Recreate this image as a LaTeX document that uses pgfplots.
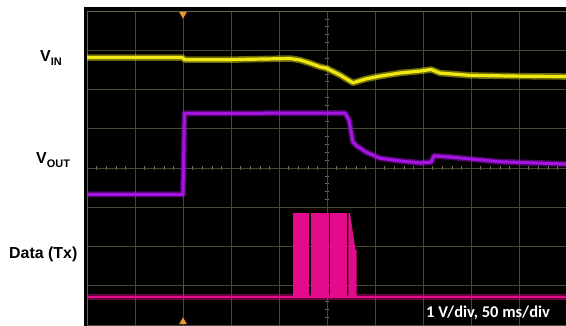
\documentclass[border=0pt]{standalone}
\usepackage{pgfplots}
\pgfplotsset{compat=1.18}
\usepackage{fontspec}
\setmainfont{Liberation Sans}
\newfontfamily\carlito{Carlito}
\definecolor{gridcol}{RGB}{72,72,52}
\definecolor{framecol}{RGB}{100,100,78}
\definecolor{tickcol}{RGB}{115,115,90}
\definecolor{vin}{RGB}{240,232,20}
\definecolor{vout}{RGB}{165,20,225}
\definecolor{data}{RGB}{228,10,140}
\definecolor{trig}{RGB}{240,150,40}
\begin{document}
\begin{tikzpicture}
\fill[black] (84bp,0bp) rectangle (566bp,319bp);
\begin{axis}[
  at={(87bp,1bp)}, anchor=south west,
  scale only axis, width=480bp, height=314bp,
  xmin=-5, xmax=5, ymin=-4, ymax=4,
  axis lines=middle,
  axis line style={-, draw=gridcol, line width=0.6bp},
  xtick={-5,...,5}, ytick={-4,...,4},
  minor tick num=4,
  xticklabels={}, yticklabels={},
  tick align=center,
  major tick length=0pt, minor tick length=3.5bp,
  every tick/.style={draw=tickcol, line width=0.6bp},
  grid=major,
  major grid style={draw=gridcol, line width=0.6bp},
  every axis plot/.append style={line join=round},
]
% frame
\draw[framecol, line width=1bp] (rel axis cs:0,0) rectangle (rel axis cs:1,1);
% V_IN (yellow)
\addplot[vin, opacity=0.45, line width=6.5bp] coordinates {
(-5,2.815) (-3.02,2.815) (-2.96,2.76) (-2.02,2.76) (-0.77,2.79) (-0.56,2.75) (-0.35,2.67) (-0.15,2.58) (0,2.535) (0.27,2.37) (0.54,2.17) (0.81,2.27) (1.10,2.34) (1.52,2.42) (1.94,2.47) (2.17,2.51) (2.35,2.42) (2.98,2.36) (4.02,2.34) (5,2.33)};
\addplot[vin, line width=3.2bp] coordinates {
(-5,2.815) (-3.02,2.815) (-2.96,2.76) (-2.02,2.76) (-0.77,2.79) (-0.56,2.75) (-0.35,2.67) (-0.15,2.58) (0,2.535) (0.27,2.37) (0.54,2.17) (0.81,2.27) (1.10,2.34) (1.52,2.42) (1.94,2.47) (2.17,2.51) (2.35,2.42) (2.98,2.36) (4.02,2.34) (5,2.33)};
% V_OUT (purple)
\addplot[vout, opacity=0.45, line width=6bp] coordinates {
(-5,-0.675) (-3.0,-0.675) (-2.97,1.39) (0.375,1.40) (0.46,1.22) (0.54,0.66) (0.625,0.56) (0.81,0.41) (1.10,0.25) (1.52,0.18) (1.94,0.13) (2.17,0.15) (2.23,0.31) (2.56,0.28) (3.60,0.16) (5,0.10)};
\addplot[vout, line width=3bp] coordinates {
(-5,-0.675) (-3.0,-0.675) (-2.97,1.39) (0.375,1.40) (0.46,1.22) (0.54,0.66) (0.625,0.56) (0.81,0.41) (1.10,0.25) (1.52,0.18) (1.94,0.13) (2.17,0.15) (2.23,0.31) (2.56,0.28) (3.60,0.16) (5,0.10)};
% Data (Tx) (magenta)
\addplot[data, opacity=0.45, line width=5.5bp] coordinates {(-5,-3.287) (5,-3.287)};
\addplot[data, line width=2.8bp] coordinates {(-5,-3.287) (5,-3.287)};
\addplot[data, line width=1bp] coordinates {(-3.0,-3.287) (-3.0,-2.98)};
\addplot[data, fill=data, draw=none] coordinates {(-0.715,-3.287) (-0.715,-1.147) (-0.37,-1.147) (-0.37,-3.287)} -- cycle;
\addplot[data, fill=data, draw=none] coordinates {(-0.34,-3.287) (-0.34,-1.147) (0.035,-1.147) (0.035,-3.287)} -- cycle;
\addplot[data, fill=data, draw=none] coordinates {(0.06,-3.287) (0.06,-1.147) (0.42,-1.147) (0.42,-3.287)} -- cycle;
\addplot[data, fill=data, draw=none] coordinates {(0.445,-3.287) (0.445,-1.147) (0.479,-1.147) (0.594,-2.09) (0.615,-2.09) (0.615,-3.287)} -- cycle;
% trigger markers
\addplot[only marks, mark=triangle*, mark size=4bp, mark options={trig, rotate=180}] coordinates {(-3,3.92)};
\addplot[only marks, mark=triangle*, mark size=4bp, mark options={trig}] coordinates {(-3,-3.92)};
\end{axis}
\node[anchor=base west, font=\bfseries\fontsize{16}{18}\selectfont, inner sep=0pt] at (40bp,264.3bp) {V\raisebox{-4bp}{\fontsize{11}{12}\selectfont IN}};
\node[anchor=base west, font=\bfseries\fontsize{16}{18}\selectfont, inner sep=0pt] at (36bp,162.7bp) {V\raisebox{-4bp}{\fontsize{11}{12}\selectfont OUT}};
\node[anchor=base west, font=\bfseries\fontsize{16}{18}\selectfont, inner sep=0pt] at (9bp,67.7bp) {Data (Tx)};
\node[anchor=base west, text=white, font=\carlito\bfseries\fontsize{16.5}{18}\selectfont, inner sep=0pt] at (426bp,8.7bp) {1 V/div, 50 ms/div};
\pgfresetboundingbox
\path[use as bounding box] (0bp,0bp) rectangle (566bp,326bp);
\end{tikzpicture}
\end{document}
